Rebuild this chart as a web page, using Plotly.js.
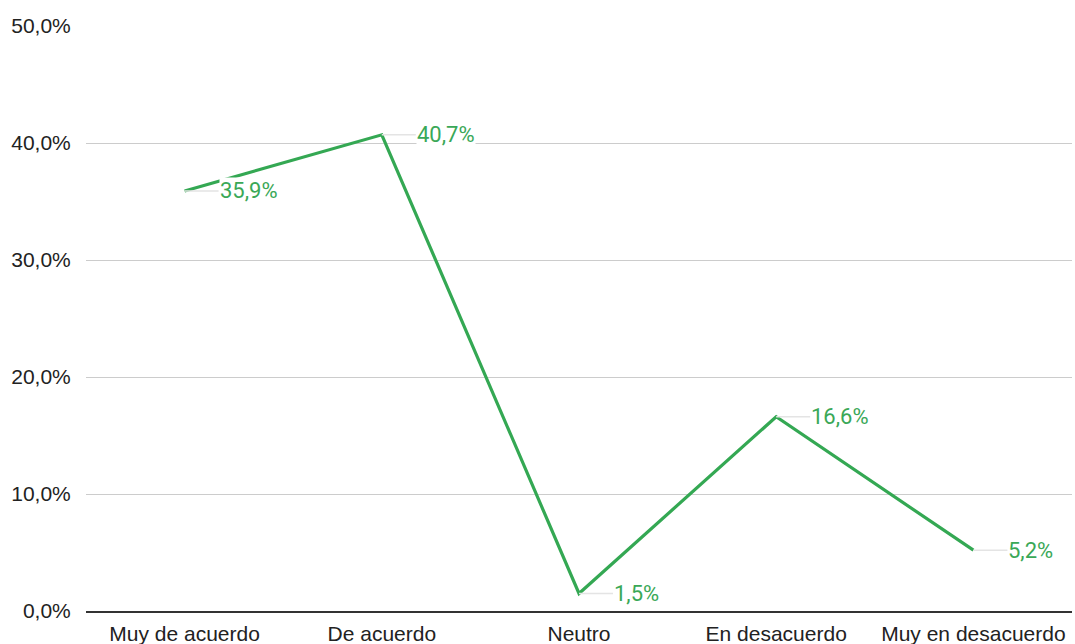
<!DOCTYPE html>
<html>
<head>
<meta charset="utf-8">
<script src="https://cdn.plot.ly/plotly-3.0.1.min.js"></script>
<style>html,body{margin:0;padding:0;background:#fff;}#chart{width:1075px;height:644px;}</style>
</head>
<body>
<div id="chart"></div>
<script>
const categories = ["Muy de acuerdo", "De acuerdo", "Neutro", "En desacuerdo", "Muy en desacuerdo"];
const values = [35.9, 40.7, 1.5, 16.6, 5.2];
const yTicks = [0, 10, 20, 30, 40, 50];

const green = '#34a853';
const fmt = v => v.toFixed(1).replace('.', ',') + '%';

const trace = {
  x: categories,
  y: values,
  type: 'scatter',
  mode: 'lines',
  line: {color: green, width: 3.2},
  hoverinfo: 'skip'
};

const annotations = categories.map((c, i) => ({
  x: c, y: values[i], xref: 'x', yref: 'y',
  text: fmt(values[i]),
  showarrow: true, arrowhead: 0, arrowwidth: 1.5, arrowcolor: '#e4e4e4',
  ax: 34, ay: 0, xanchor: 'left', yanchor: 'middle',
  bgcolor: '#ffffff', borderpad: 0,
  font: {family: 'Roboto, Arial, sans-serif', size: 22, color: '#3aa857'}
}));

const layout = {
  width: 1075, height: 644,
  margin: {l: 86, r: 3, t: 26, b: 33},
  paper_bgcolor: '#fff', plot_bgcolor: '#fff',
  showlegend: false,
  separators: ',.',
  xaxis: {
    type: 'category', range: [-0.5, 4.5],
    showgrid: false, zeroline: false,
    showline: true, linecolor: '#333', linewidth: 2,
    ticks: '', ticklabelstandoff: 3,
    tickfont: {family: 'Liberation Sans, Arial, sans-serif', size: 21, color: '#222'}
  },
  yaxis: {
    range: [0, 50], tickvals: yTicks, ticktext: yTicks.map(fmt),
    showgrid: true, gridcolor: '#cccccc', gridwidth: 1,
    zeroline: false, showline: false,
    ticks: 'outside', ticklen: 10, tickcolor: 'rgba(0,0,0,0)',
    tickfont: {family: 'Liberation Sans, Arial, sans-serif', size: 21, color: '#222'}
  },
  annotations: annotations
};

Plotly.newPlot('chart', [trace], layout, {displayModeBar: false, staticPlot: true});
</script>
</body>
</html>
